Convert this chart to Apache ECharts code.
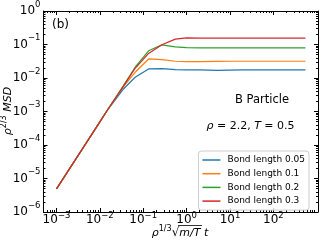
<!DOCTYPE html>
<html><head><meta charset="utf-8">
<script src="https://cdn.jsdelivr.net/npm/echarts@6/dist/echarts.min.js"></script>
<style>html,body{margin:0;padding:0;background:#fff}#c{width:322px;height:242px}</style>
</head><body><div id="c"></div>
<script>
// time values (rho^{1/3} sqrt(m/T) t)
const times = [0.001, 0.01, 0.0147, 0.035, 0.065, 0.133, 0.27, 0.55, 1, 2, 5, 10, 20, 50, 100, 200, 550];
// rho^{2/3} MSD for each bond length
const bond005 = [4.9e-6, 4.9e-4, 1.07e-3, 4.7e-3, 1.05e-2, 1.86e-2, 1.90e-2, 1.78e-2, 1.74e-2, 1.74e-2, 1.70e-2, 1.73e-2, 1.74e-2, 1.74e-2, 1.74e-2, 1.74e-2, 1.74e-2];
const bond01  = [4.9e-6, 4.9e-4, 1.07e-3, 5.5e-3, 1.48e-2, 3.70e-2, 3.55e-2, 3.16e-2, 3.09e-2, 3.09e-2, 3.14e-2, 3.16e-2, 3.16e-2, 3.16e-2, 3.16e-2, 3.16e-2, 3.16e-2];
const bond02  = [4.9e-6, 4.9e-4, 1.07e-3, 5.9e-3, 2.10e-2, 6.50e-2, 9.80e-2, 8.50e-2, 8.10e-2, 7.95e-2, 7.95e-2, 7.95e-2, 7.95e-2, 7.95e-2, 7.95e-2, 7.95e-2, 7.95e-2];
const bond03  = [4.9e-6, 4.9e-4, 1.07e-3, 5.75e-3, 1.95e-2, 5.40e-2, 9.80e-2, 1.45e-1, 1.58e-1, 1.55e-1, 1.55e-1, 1.55e-1, 1.55e-1, 1.55e-1, 1.55e-1, 1.55e-1, 1.55e-1];
const seriesNames = ['Bond length 0.05', 'Bond length 0.1', 'Bond length 0.2', 'Bond length 0.3'];
const seriesColors = ['#1f77b4', '#ff7f0e', '#2ca02c', '#d62728'];
const xTickExponents = [-3, -2, -1, 0, 1, 2];
const yTickExponents = [-6, -5, -4, -3, -2, -1, 0];
const xRange = [-3.3, 3.03];
const yRange = [-6, 0];

const FONT = 'DejaVu Sans';
function minorTicks(r) {
  const out = [];
  for (let n = Math.floor(r[0]) - 1; n <= Math.ceil(r[1]); n++) {
    for (let k = 2; k <= 9; k++) {
      const v = n + Math.log10(k);
      if (v > r[0] && v < r[1]) out.push(v);
    }
  }
  return out;
}
function supLabel(v) {
  const e = Math.round(v);
  return '{b|10}{s|' + (e < 0 ? '\u2212' + (-e) : String(e)) + '}';
}
function richFor(raise) {
  return {
    b: { fontSize: 12, fontFamily: FONT, color: '#000' },
    s: { fontSize: 8.5, fontFamily: FONT, color: '#000', padding: [0, 0, raise, 0] }
  };
}
const black = { color: '#000', width: 1 };
function axis(kind, pos, range, major, labels, minor) {
  const a = {
    type: 'value', position: pos, min: range[0], max: range[1],
    gridIndex: 0, splitLine: { show: false },
    axisLine: { show: !minor, onZero: false, lineStyle: black },
    axisTick: { show: true, inside: true, length: minor ? 2 : 4, customValues: major, lineStyle: black },
    axisLabel: { show: false }
  };
  if (labels) {
    a.axisLabel = {
      show: true, customValues: major, formatter: supLabel,
      rich: richFor(kind === 'x' ? 9 : 13),
      margin: kind === 'x' ? -1 : 3, color: '#000'
    };
  }
  return a;
}
const xMinor = minorTicks(xRange), yMinor = minorTicks(yRange);
const xAxes = [
  axis('x', 'bottom', xRange, xTickExponents, true, false),
  axis('x', 'bottom', xRange, xMinor, false, true),
  axis('x', 'top', xRange, xTickExponents, false, false),
  axis('x', 'top', xRange, xMinor, false, true)
];
const yAxes = [
  axis('y', 'left', yRange, yTickExponents, true, false),
  axis('y', 'left', yRange, yMinor, false, true),
  axis('y', 'right', yRange, yTickExponents, false, false),
  axis('y', 'right', yRange, yMinor, false, true)
];
const allData = [bond005, bond01, bond02, bond03];
const series = allData.map((vals, i) => ({
  name: seriesNames[i], type: 'line', xAxisIndex: 0, yAxisIndex: 0,
  showSymbol: false, symbol: 'none', color: seriesColors[i],
  lineStyle: { width: 1.2, color: seriesColors[i] },
  data: times.map((t, j) => [Math.log10(t), Math.log10(vals[j])]),
  animation: false
}));
const chart = echarts.init(document.getElementById('c'), null, { renderer: 'canvas' });
chart.setOption({
  animation: false,
  backgroundColor: '#fff',
  grid: { left: 43.5, right: 4, top: 10, bottom: 30 },
  xAxis: xAxes,
  yAxis: yAxes,
  legend: {
    orient: 'vertical', right: 13, top: 151,
    data: seriesNames, icon: 'rect', itemWidth: 18, itemHeight: 1.5, itemGap: 1.7,
    padding: [3, 4, 3, 4],
    backgroundColor: 'rgba(255,255,255,0.8)', borderColor: '#cccccc', borderWidth: 1, borderRadius: 3,
    textStyle: { fontSize: 9, fontFamily: FONT, color: '#000', lineHeight: 12, padding: [0, 0, 0, 2] }
  },
  series: series,
  graphic: [
    { type: 'text', left: 52, top: 19, style: { text: '(b)', font: '12px "DejaVu Sans"', fill: '#000' } },
    { type: 'text', x: 262, y: 100, style: { text: 'B Particle', font: '11.5px "DejaVu Sans"', fill: '#000', align: 'center', verticalAlign: 'middle' } },
    { type: 'text', x: 250.5, y: 126, style: {
      text: '{i|\u03c1}{n| = 2.2, }{i|T}{n| = 0.5}', align: 'center', verticalAlign: 'middle',
      rich: { i: { fontSize: 11, fontFamily: FONT, fontStyle: 'italic', fill: '#000' }, n: { fontSize: 11, fontFamily: FONT, fill: '#000' } }
    } },
    { type: 'text', x: 8, y: 111, rotation: Math.PI / 2, style: {
      text: '{i|\u03c1}{s|2/3}{n| }{i|MSD}', align: 'center', verticalAlign: 'middle',
      rich: {
        i: { fontSize: 11, fontFamily: FONT, fontStyle: 'italic', fill: '#000' },
        n: { fontSize: 11, fontFamily: FONT, fill: '#000' },
        s: { fontSize: 8, fontFamily: FONT, fill: '#000', padding: [0, 0, 8, 0] }
      }
    } },
    { type: 'text', x: 180, y: 233, style: {
      text: '{i|\u03c1}{s|1/3}{r|\u221a}{i|m/T}{n| }{i|t}', align: 'center', verticalAlign: 'middle',
      rich: {
        i: { fontSize: 11, fontFamily: FONT, fontStyle: 'italic', fill: '#000' },
        n: { fontSize: 11, fontFamily: FONT, fill: '#000' },
        r: { fontSize: 12, fontFamily: FONT, fill: '#000' },
        s: { fontSize: 8, fontFamily: FONT, fill: '#000', padding: [0, 0, 8, 0] }
      }
    } },
    { type: 'line', shape: { x1: 178, y1: 225.5, x2: 202, y2: 225.5 }, style: { stroke: '#000', lineWidth: 0.8 } }
  ]
});
</script></body></html>
